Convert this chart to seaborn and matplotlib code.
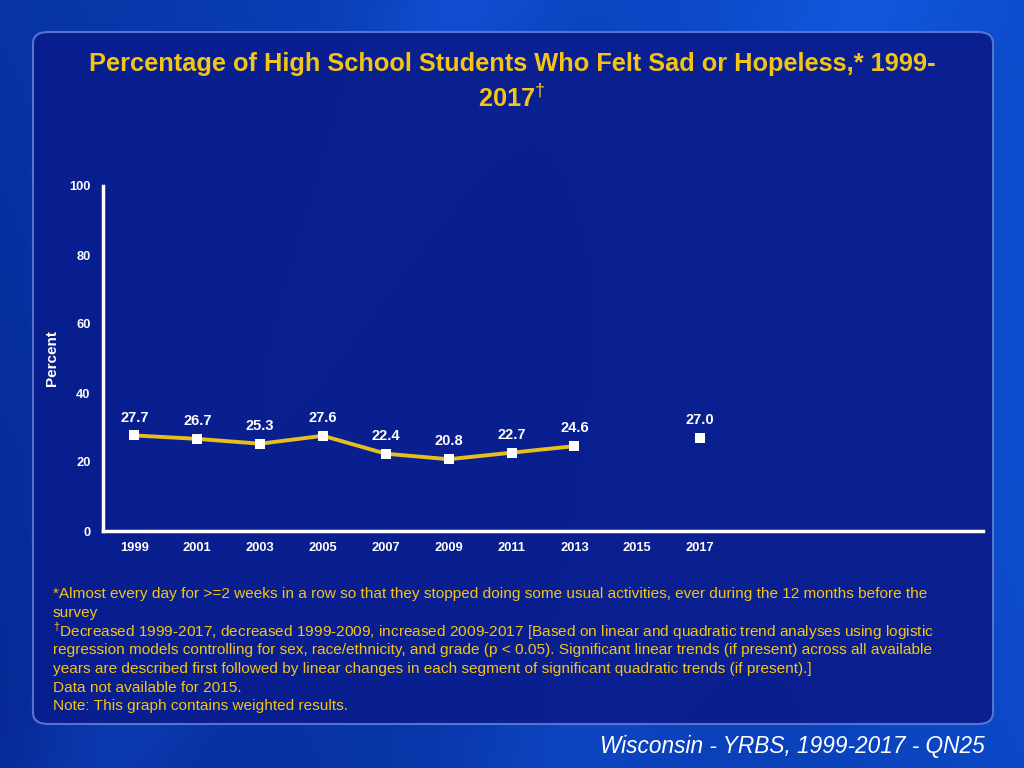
import matplotlib.pyplot as plt
import numpy as np
import pandas as pd
import seaborn as sns
from matplotlib.patches import FancyBboxPatch

# data (2015 not available)
years = ["1999", "2001", "2003", "2005", "2007", "2009", "2011", "2013", "2015", "2017"]
percent = [27.7, 26.7, 25.3, 27.6, 22.4, 20.8, 22.7, 24.6, np.nan, 27.0]
y_ticks = [0, 20, 40, 60, 80, 100]

title = "Percentage of High School Students Who Felt Sad or Hopeless,* 1999-\n2017$^{\\dagger}$"
footnotes = [
    "*Almost every day for >=2 weeks in a row so that they stopped doing some usual activities, ever during the 12 months before the",
    "survey",
    "$^{\\dagger}$Decreased 1999-2017, decreased 1999-2009, increased 2009-2017 [Based on linear and quadratic trend analyses using logistic",
    "regression models controlling for sex, race/ethnicity, and grade (p < 0.05). Significant linear trends (if present) across all available",
    "years are described first followed by linear changes in each segment of significant quadratic trends (if present).]",
    "Data not available for 2015.",
    "Note: This graph contains weighted results.",
]
source = "Wisconsin - YRBS, 1999-2017 - QN25"

YELLOW = "#f2c418"
LINE = "#e6be1e"

sns.set_theme(style="white")
plt.rcParams["font.family"] = ["Liberation Sans", "DejaVu Sans"]
plt.rcParams["mathtext.fontset"] = "custom"
plt.rcParams["mathtext.rm"] = "Liberation Sans"

df = pd.DataFrame({"year": years, "pct": percent})
df["pos"] = np.arange(len(df))
# break the line where data is missing
df["seg"] = df["pct"].isna().cumsum()
valid = df.dropna()

fig = plt.figure(figsize=(10.24, 7.68), dpi=100)

# background: blue gradient with soft diagonal streaks
bg = fig.add_axes([0, 0, 1, 1], zorder=-10)
h, w = 768, 1024
yy, xx = np.mgrid[0:h, 0:w] / np.array([h, w])[:, None, None]
t = np.clip(xx * 0.9 + (1 - yy) * 0.3, 0, 1)
c0 = np.array([0.02, 0.16, 0.58])
c1 = np.array([0.05, 0.30, 0.80])
base = c0 + (c1 - c0) * t[..., None]
streak = np.exp(-((xx - 0.45 + yy * 0.35) / 0.08) ** 2) * 0.08
streak += np.exp(-((xx - 0.85 + yy * 0.3) / 0.10) ** 2) * 0.06
base = np.clip(base + streak[..., None] * np.array([0.3, 0.6, 1.0]), 0, 1)
bg.imshow(base, extent=[0, 1, 0, 1], aspect="auto", origin="upper")
panel = FancyBboxPatch((33 / 1024, 1 - 724 / 768), 960 / 1024, 692 / 768,
                       boxstyle="round,pad=0,rounding_size=0.015",
                       facecolor="#0a1e8e", edgecolor="#5a78d0", linewidth=1.5,
                       alpha=0.96, transform=bg.transAxes)
bg.add_patch(panel)
bg.set_xlim(0, 1)
bg.set_ylim(0, 1)
bg.axis("off")

ax = fig.add_axes([103 / 1024, 1 - 531 / 768, 880 / 1024, 345 / 768])
ax.patch.set_alpha(0)

sns.lineplot(data=valid, x="pos", y="pct", units="seg", estimator=None,
             color=LINE, linewidth=2.8, ax=ax, zorder=2)
sns.scatterplot(data=valid, x="pos", y="pct", marker="s", s=55, color="white",
                edgecolor="white", linewidth=0, ax=ax, zorder=3)

for _, r in valid.iterrows():
    ax.annotate(f"{r.pct:.1f}", (r.pos, r.pct), xytext=(0, 12.8), textcoords="offset points",
                ha="center", va="center", color="white", fontsize=10.5, fontweight="bold")

ax.set_xlim(-0.5, 13.5)
ax.set_ylim(0, 100)
ax.set_xticks(df["pos"])
ax.set_xticklabels(years)
ax.set_yticks(y_ticks)
ax.set_xlabel("")
ax.set_ylabel("Percent", color="white", fontsize=11, fontweight="bold", labelpad=7)
ax.tick_params(axis="y", colors="white", labelsize=9.3, length=4, width=2, direction="out", pad=5)
ax.tick_params(axis="x", colors="white", labelsize=9.3, length=0, pad=8)
for lbl in ax.get_xticklabels() + ax.get_yticklabels():
    lbl.set_fontweight("bold")
for side in ["top", "right"]:
    ax.spines[side].set_visible(False)
for side in ["left", "bottom"]:
    ax.spines[side].set_color("white")
    ax.spines[side].set_linewidth(2.5)

fig.text(0.5, 1 - 82 / 768, title, ha="center", va="center", color=YELLOW,
         fontsize=18.3, fontweight="bold", linespacing=1.4)

for i, line in enumerate(footnotes):
    fig.text(53 / 1024, 1 - (594 + i * 18.7) / 768, line, ha="left", va="center",
             color=YELLOW, fontsize=11.1)

fig.text(985 / 1024, 1 - 746 / 768, source, ha="right", va="center", color="white",
         fontsize=16.3, style="italic")

plt.savefig("out.png", dpi=100)
